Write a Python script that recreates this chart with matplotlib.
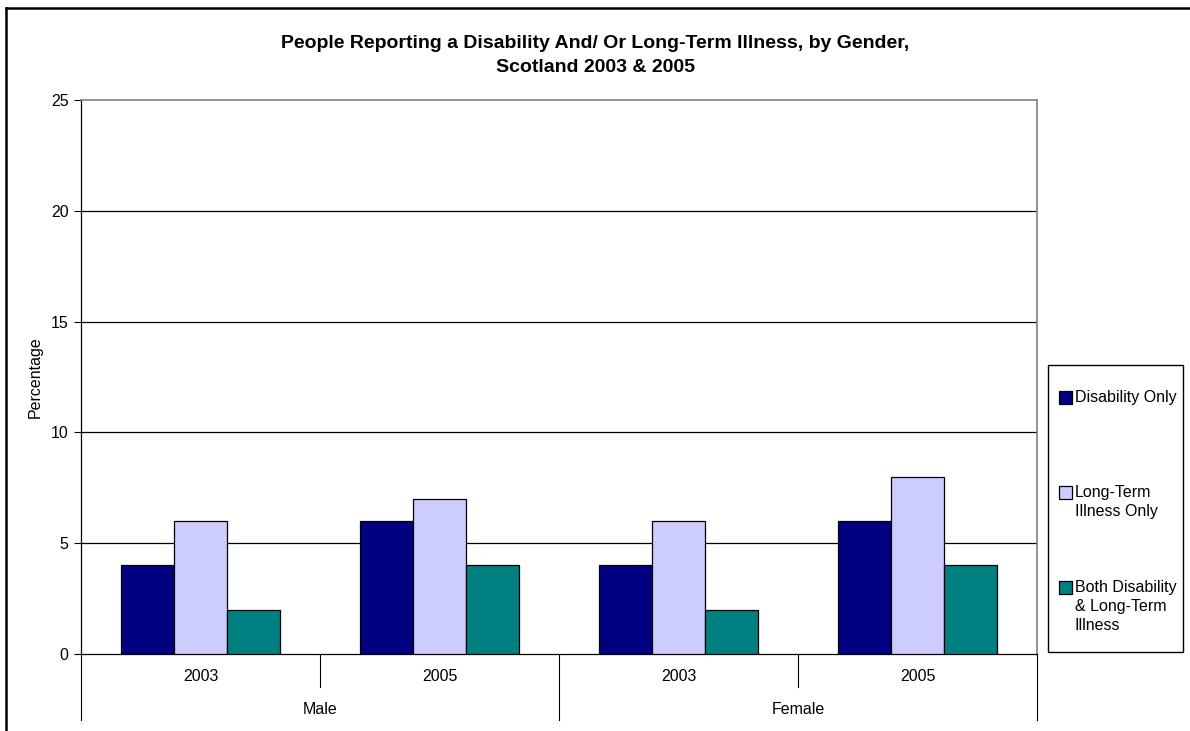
import numpy as np
import matplotlib.pyplot as plt
from matplotlib.lines import Line2D
from matplotlib.patches import Rectangle
import matplotlib.transforms as mtransforms

plt.rcParams['font.family'] = ['Liberation Sans', 'DejaVu Sans']

# data
genders = ["Male", "Female"]
years = ["2003", "2005", "2003", "2005"]
series_names = ["Disability Only", "Long-Term\nIllness Only", "Both Disability\n& Long-Term\nIllness"]
disability_only = [4, 6, 4, 6]
illness_only = [6, 7, 6, 8]
both = [2, 4, 2, 4]
series_values = [disability_only, illness_only, both]
colors = ["#000080", "#CCCCFF", "#008080"]

W, H = 1190, 731
fig = plt.figure(figsize=(W / 100, H / 100), dpi=100)
fig.patch.set_facecolor("white")

# plot area in pixel coordinates
left, right, top, bottom = 81, 1037, 100, 654
ax = fig.add_axes([left / W, (H - bottom) / H, (right - left) / W, (bottom - top) / H])

x = np.arange(len(years))
bar_w = 0.222
for i, (vals, col) in enumerate(zip(series_values, colors)):
    ax.bar(x + (i - 1) * bar_w, vals, width=bar_w, color=col, edgecolor="black",
           linewidth=0.9, zorder=3)

ax.set_xlim(-0.5, len(years) - 0.5)
ax.set_ylim(0, 25)
ax.set_yticks(np.arange(0, 26, 5))
ax.tick_params(axis="y", direction="out", length=5, width=0.8, labelsize=11.5, pad=4)
ax.set_xticks(x)
ax.set_xticklabels(years, fontsize=11.5)
ax.tick_params(axis="x", length=0, pad=11)
ax.set_ylabel("Percentage", fontsize=11.5, labelpad=6)

for y in [5, 10, 15, 20]:
    ax.axhline(y, color="black", linewidth=0.9, zorder=1)

for s in ["top", "right"]:
    ax.spines[s].set_color("#808080")
    ax.spines[s].set_linewidth(1.2)
for s in ["left", "bottom"]:
    ax.spines[s].set_color("black")
    ax.spines[s].set_linewidth(0.9)

# multi-level category axis
trans = mtransforms.blended_transform_factory(ax.transData, ax.transAxes)
short_end = -(687 - bottom) / (bottom - top)
long_end = -(720 - bottom) / (bottom - top)
for xb in np.arange(-0.5, len(years), 1.0):
    is_long = int(round(xb + 0.5)) % 2 == 0
    ax.plot([xb, xb], [0, long_end if is_long else short_end], color="black",
            linewidth=0.8, transform=trans, clip_on=False)
gender_y = -(709 - bottom) / (bottom - top)
for gi, g in enumerate(genders):
    ax.text(gi * 2 + 0.5, gender_y, g, transform=trans, ha="center", va="center", fontsize=11.5)

# title
fig.text(0.5, 1 - 48 / H, "People Reporting a Disability And/ Or Long-Term Illness, by Gender,",
         ha="center", va="baseline", fontsize=14, fontweight="bold")
fig.text(0.5, 1 - 72 / H, "Scotland 2003 & 2005",
         ha="center", va="baseline", fontsize=14, fontweight="bold")

# legend: box, then one swatch + label per series, evenly spaced
fig.add_artist(Rectangle((1048 / W, 1 - 652 / H), (1183 - 1048) / W, (652 - 365) / H,
                         transform=fig.transFigure, facecolor="white", edgecolor="black",
                         linewidth=1.0))
for i, (name, col) in enumerate(zip(series_names, colors)):
    yc = 397 + 95 * i
    fig.add_artist(Rectangle((1059 / W, 1 - (yc + 6.5) / H), 13 / W, 13 / H,
                             transform=fig.transFigure, facecolor=col, edgecolor="black",
                             linewidth=0.9))
    fig.text(1075 / W, 1 - (yc - 7) / H, name, ha="left", va="top", fontsize=11.5,
             linespacing=1.35)

# outer chart border (left and top visible)
fig.add_artist(Line2D([6 / W, 6 / W], [0, 1 - 8 / H], transform=fig.transFigure,
                      color="black", linewidth=1.8))
fig.add_artist(Line2D([6 / W, 1], [1 - 8 / H, 1 - 8 / H], transform=fig.transFigure,
                      color="black", linewidth=1.8))

fig.savefig("out.png", dpi=100)
